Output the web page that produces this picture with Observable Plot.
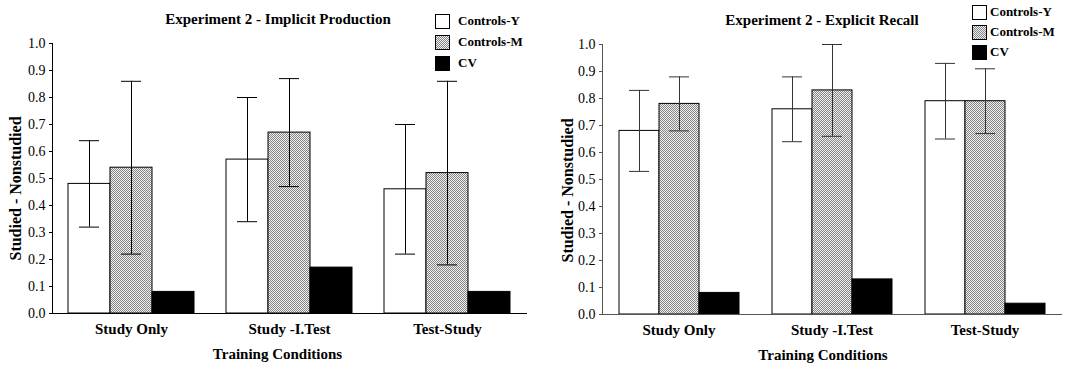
<!DOCTYPE html>
<html>
<head>
<meta charset="utf-8">
<script src="https://cdn.jsdelivr.net/npm/d3@7"></script>
<script src="https://cdn.jsdelivr.net/npm/@observablehq/plot@0.6"></script>
<style>
  html, body { margin: 0; padding: 0; background: white; }
  #wrap { position: relative; width: 1068px; height: 368px; overflow: hidden; background: white;
          font-family: "Liberation Serif", "Times New Roman", serif; }
  .panel { position: absolute; top: 0; }
  .title { position: absolute; font-weight: bold; font-size: 15px; line-height: 15px; white-space: nowrap; transform: translateX(-50%); }
  .legend { position: absolute; font-weight: bold; font-size: 13px; }
  .row { position: absolute; left: 0; height: 14px; white-space: nowrap; }
  .sw { position: absolute; left: 0; top: 0; width: 13px; height: 13px; border: 1px solid #000; box-sizing: content-box; }
  .lab { position: absolute; top: -1px; line-height: 16px; }
</style>
</head>
<body>
<div id="wrap">
  <svg width="0" height="0" style="position:absolute;left:0;top:0">
    <defs>
      <pattern id="dither" width="2" height="2" patternUnits="userSpaceOnUse">
        <rect width="2" height="2" fill="#f0f0f0"></rect>
        <rect width="1" height="1" fill="#858585"></rect>
        <rect x="1" y="1" width="1" height="1" fill="#858585"></rect>
      </pattern>
    </defs>
  </svg>
  <div id="left" class="panel" style="left:0"></div>
  <div id="right" class="panel" style="left:534px"></div>
</div>
<script>
// ---- data ----
const conditions = ["Study Only", "Study -I.Test", "Test-Study"];
const groups = ["Controls-Y", "Controls-M", "CV"];
const yTicks = [0, 0.1, 0.2, 0.3, 0.4, 0.5, 0.6, 0.7, 0.8, 0.9, 1.0];

const titles = ["Experiment 2 - Implicit Production", "Experiment 2 - Explicit Recall"];
const yLabel = "Studied - Nonstudied";
const xLabel = "Training Conditions";

// Implicit production
const implicitY  = [0.48, 0.57, 0.46];
const implicitM  = [0.54, 0.67, 0.52];
const implicitCV = [0.08, 0.17, 0.08];
const implicitYLo = [0.32, 0.34, 0.22];
const implicitYHi = [0.64, 0.80, 0.70];
const implicitMLo = [0.22, 0.47, 0.18];
const implicitMHi = [0.86, 0.87, 0.86];

// Explicit recall
const explicitY  = [0.68, 0.76, 0.79];
const explicitM  = [0.78, 0.83, 0.79];
const explicitCV = [0.08, 0.13, 0.04];
const explicitYLo = [0.53, 0.64, 0.65];
const explicitYHi = [0.83, 0.88, 0.93];
const explicitMLo = [0.68, 0.66, 0.67];
const explicitMHi = [0.88, 1.00, 0.91];

const fills = ["white", "url(#dither)", "black"];
const swatchBg = ["white", "repeating-conic-gradient(#858585 0 25%, #f0f0f0 0 50%) 0 0 / 2px 2px", "black"];

function makeChart(vals, err, o) {
  const bars = [];
  conditions.forEach((c, i) => groups.forEach((g, j) => bars.push({condition: c, group: g, value: vals[j][i]})));
  const errs = [];
  conditions.forEach((c, i) => {
    errs.push({condition: c, group: groups[0], lo: err[0][i], hi: err[1][i]});
    errs.push({condition: c, group: groups[1], lo: err[2][i], hi: err[3][i]});
  });
  return Plot.plot({
    width: 534, height: 368,
    marginLeft: o.ml, marginRight: o.mr, marginTop: o.mt, marginBottom: 368 - o.mb,
    style: {fontFamily: "'Liberation Serif', 'Times New Roman', serif", background: "white", color: "black"},
    fx: {domain: conditions, padding: 0},
    x: {domain: groups, paddingInner: 0, paddingOuter: 0.375, axis: null},
    y: {domain: [0, 1]},
    color: {domain: groups, range: fills},
    marks: [
      Plot.barY(bars, {fx: "condition", x: "group", y: "value", fill: "group", stroke: "black", strokeWidth: 1}),
      Plot.ruleX(errs, {fx: "condition", x: "group", y1: "lo", y2: "hi", stroke: o.err, strokeWidth: 1}),
      Plot.tickY(errs, {fx: "condition", x: "group", y: "lo", stroke: o.err, strokeWidth: 1, insetLeft: o.cap, insetRight: o.cap}),
      Plot.tickY(errs, {fx: "condition", x: "group", y: "hi", stroke: o.err, strokeWidth: 1, insetLeft: o.cap, insetRight: o.cap}),
      Plot.axisY({ticks: yTicks, tickFormat: d3.format(".1f"), tickSize: 3, tickPadding: 4, fontSize: 14, label: null, stroke: o.axis}),
      Plot.axisFx({anchor: "bottom", tickSize: 0, tickPadding: 10, fontSize: 15, fontWeight: "bold", label: null}),
      Plot.frame({anchor: "left", facet: "super", stroke: o.axis}),
      Plot.frame({anchor: "bottom", facet: "super", stroke: o.axis}),
      Plot.text([yLabel], {facet: "super", frameAnchor: "left", textAnchor: "middle", lineAnchor: "middle", rotate: -90,
                           dx: o.ydx, dy: o.ydy, fontSize: 16, fontWeight: "bold", fill: "black"}),
      Plot.text([xLabel], {facet: "super", frameAnchor: "bottom", textAnchor: "middle", lineAnchor: "middle",
                           dx: o.xdx, dy: 41, fontSize: 15, fontWeight: "bold", fill: "black"})
    ]
  });
}

function addTitle(text, cx, top) {
  const d = document.createElement("div");
  d.className = "title";
  d.style.left = cx + "px";
  d.style.top = top + "px";
  d.textContent = text;
  document.getElementById("wrap").appendChild(d);
}
function addLegend(left, top, step, gap) {
  const lg = document.createElement("div");
  lg.className = "legend";
  lg.style.left = left + "px";
  lg.style.top = top + "px";
  groups.forEach((g, i) => {
    const r = document.createElement("div");
    r.className = "row";
    r.style.top = (i * step) + "px";
    const s = document.createElement("div");
    s.className = "sw";
    s.style.background = swatchBg[i];
    const t = document.createElement("div");
    t.className = "lab";
    t.style.left = (15 + gap) + "px";
    t.textContent = g;
    r.appendChild(s); r.appendChild(t);
    lg.appendChild(r);
  });
  document.getElementById("wrap").appendChild(lg);
}

document.getElementById("left").appendChild(
  makeChart([implicitY, implicitM, implicitCV], [implicitYLo, implicitYHi, implicitMLo, implicitMHi],
            {ml: 52, mr: 8, mt: 43, mb: 313, err: "black", axis: "black", cap: 11, ydx: -37, ydy: 10, xdx: -12}));
document.getElementById("right").appendChild(
  makeChart([explicitY, explicitM, explicitCV], [explicitYLo, explicitYHi, explicitMLo, explicitMHi],
            {ml: 68, mr: 7, mt: 44, mb: 314, err: "#333", axis: "#555", cap: 10, ydx: -35, ydy: 11, xdx: -9}));

addTitle(titles[0], 278, 12);
addTitle(titles[1], 822, 13);
addLegend(435, 14, 21, 8);
addLegend(972, 5, 20, 3);
</script>
</body>
</html>
